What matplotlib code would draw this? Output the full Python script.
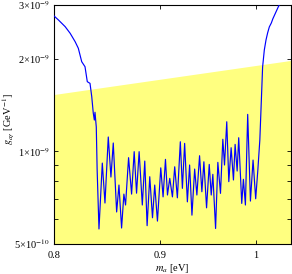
import numpy as np
import matplotlib
matplotlib.use('Agg')
import matplotlib.pyplot as plt
from matplotlib.ticker import FixedLocator, NullLocator

plt.rcParams['font.family'] = ['Liberation Serif', 'DejaVu Serif']
plt.rcParams['mathtext.fontset'] = 'stix'

# axion mass [eV] and coupling [1e-9 GeV^-1]
m_a = [0.800, 0.8039, 0.8099, 0.8144, 0.8189, 0.8218, 0.8249, 0.8279, 0.8300, 0.8325,
       0.8341, 0.8355, 0.8365, 0.8371, 0.8383, 0.8391, 0.8408,
       0.8439, 0.8464, 0.8495, 0.8520, 0.8542, 0.8574, 0.8596, 0.8621, 0.8643, 0.8659,
       0.8688, 0.8717, 0.8742, 0.8765, 0.8790, 0.8821, 0.8845, 0.8868, 0.8894, 0.8921,
       0.8943, 0.8970, 0.9003, 0.9026, 0.9050, 0.9070, 0.9093, 0.9120, 0.9143, 0.9170,
       0.9200, 0.9221, 0.9244, 0.9272, 0.9295, 0.9319, 0.9347, 0.9370, 0.9398, 0.9422,
       0.9443, 0.9471, 0.9499, 0.9520, 0.9537, 0.9566, 0.9590, 0.9618, 0.9643, 0.9661,
       0.9685, 0.9707, 0.9732, 0.9757, 0.9775, 0.9797, 0.9814, 0.9847, 0.9865, 0.9887,
       0.9912, 0.9942, 0.9971, 1.0000,
       1.0024, 1.0046, 1.0063, 1.0077, 1.0096, 1.0115, 1.0133, 1.0152, 1.0175, 1.0191,
       1.0227, 1.0253, 1.0276]
g_ag = [2.762, 2.680, 2.549, 2.425, 2.277, 2.167, 1.959, 1.887, 1.686, 1.665,
        1.507, 1.333, 1.264, 1.340, 1.200, 0.869, 0.558,
        0.915, 0.678, 1.113, 0.824, 1.064, 0.634, 0.776, 0.562, 0.725, 0.668,
        0.953, 0.725, 0.997, 0.730, 0.997, 0.668, 0.929, 0.572, 0.826, 0.607,
        0.776, 0.592, 0.883, 0.710, 0.941, 0.720, 0.816, 0.710, 0.890, 0.705,
        1.074, 0.757, 1.061, 0.684, 0.902, 0.619, 0.875, 0.720, 0.967, 0.738,
        0.924, 0.654, 0.906, 0.720, 0.841, 0.560, 0.920, 0.729, 1.094, 0.902,
        1.248, 0.796, 1.027, 0.806, 1.053, 0.862, 1.107, 0.676, 0.810, 0.668,
        1.319, 0.688, 0.936, 0.700,
        0.869, 1.088, 1.469, 1.883, 2.139, 2.307, 2.431, 2.543, 2.621, 2.700,
        2.846, 2.955, 3.045]

# upper edge of the shaded (yellow) region
band_m = [0.80, 1.04]
band_g = [1.525, 1.97]

x_ticks = [0.8, 0.9, 1.0]
x_labels = ['0.8', '0.9', '1']
y_ticks = [5e-10, 6e-10, 7e-10, 8e-10, 9e-10, 1e-9, 2e-9, 3e-9]
y_labels = ['5\u00d710$^{-10}$', '', '', '', '', '1\u00d710$^{-9}$',
            '2\u00d710$^{-9}$', '3\u00d710$^{-9}$']

fig = plt.figure(figsize=(2.92, 2.74), dpi=100)
ax = fig.add_axes([0.185, 0.111, 0.812, 0.871])

ax.fill_between(band_m, [1e-10] * len(band_m), np.array(band_g) * 1e-9,
                color='#ffff80', lw=0, zorder=1)
ax.plot(m_a, np.array(g_ag) * 1e-9, color='#0000ff', lw=0.85, zorder=3)

ax.set_xscale('log')
ax.set_yscale('log')
ax.set_xlim(0.8, 1.04)
ax.set_ylim(5e-10, 3e-9)

ax.xaxis.set_major_locator(FixedLocator(x_ticks))
ax.xaxis.set_minor_locator(NullLocator())
ax.set_xticklabels(x_labels)
ax.yaxis.set_major_locator(FixedLocator(y_ticks))
ax.yaxis.set_minor_locator(NullLocator())
ax.set_yticklabels(y_labels)

ax.tick_params(which='both', direction='in', top=True, right=True,
               length=3, width=0.6, labelsize=7.5)
ax.tick_params(axis='x', pad=5)
ax.tick_params(axis='y', pad=3)
for s in ax.spines.values():
    s.set_linewidth(0.8)

ax.set_xlabel('$m_a$ [eV]', fontsize=7.5, labelpad=2)
ax.set_ylabel(r'$g_{a\gamma}$ [GeV$^{-1}$]', fontsize=7.5)
ax.yaxis.set_label_coords(-0.16, 0.52)

fig.savefig('out.png', dpi=100)
